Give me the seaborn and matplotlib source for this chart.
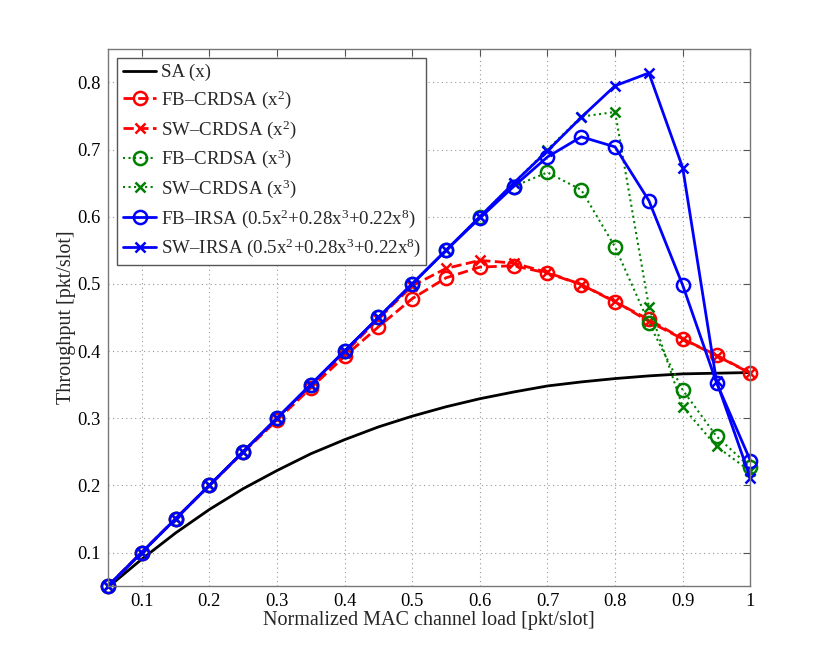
import numpy as np
import pandas as pd
import matplotlib
matplotlib.use("Agg")
import matplotlib.pyplot as plt
import seaborn as sns

# Offered load (x axis)
load = [0.05, 0.10, 0.15, 0.20, 0.25, 0.30, 0.35, 0.40, 0.45, 0.50,
        0.55, 0.60, 0.65, 0.70, 0.75, 0.80, 0.85, 0.90, 0.95, 1.00]

# Throughput values
sa = [0.048, 0.090, 0.129, 0.164, 0.195, 0.222, 0.247, 0.268, 0.287, 0.303,
      0.317, 0.329, 0.339, 0.348, 0.354, 0.359, 0.363, 0.366, 0.367, 0.368]
fb_crdsa2 = [0.050, 0.100, 0.150, 0.200, 0.249, 0.297, 0.345, 0.392, 0.436, 0.478,
             0.509, 0.525, 0.527, 0.516, 0.499, 0.473, 0.447, 0.418, 0.394, 0.367]
sw_crdsa2 = [0.050, 0.100, 0.150, 0.200, 0.250, 0.299, 0.348, 0.397, 0.448, 0.497,
             0.523, 0.535, 0.531, 0.517, 0.499, 0.474, 0.444, 0.418, 0.393, 0.367]
fb_crdsa3 = [0.050, 0.100, 0.150, 0.200, 0.250, 0.300, 0.350, 0.400, 0.450, 0.500,
             0.550, 0.600, 0.645, 0.666, 0.640, 0.555, 0.442, 0.342, 0.273, 0.227]
sw_crdsa3 = [0.050, 0.100, 0.150, 0.200, 0.250, 0.300, 0.350, 0.400, 0.450, 0.500,
             0.550, 0.600, 0.650, 0.700, 0.749, 0.756, 0.466, 0.317, 0.258, 0.221]
fb_irsa = [0.050, 0.100, 0.150, 0.200, 0.250, 0.300, 0.350, 0.400, 0.450, 0.500,
           0.550, 0.598, 0.645, 0.689, 0.719, 0.704, 0.624, 0.498, 0.353, 0.237]
sw_irsa = [0.050, 0.100, 0.150, 0.200, 0.250, 0.300, 0.350, 0.400, 0.450, 0.500,
           0.550, 0.600, 0.650, 0.698, 0.748, 0.795, 0.814, 0.673, 0.355, 0.211]

labels = ["SA (x)",
          r"FB–CRDSA (x$^2$)",
          r"SW–CRDSA (x$^2$)",
          r"FB–CRDSA (x$^3$)",
          r"SW–CRDSA (x$^3$)",
          r"FB–IRSA (0.5x$^2$+0.28x$^3$+0.22x$^8$)",
          r"SW–IRSA (0.5x$^2$+0.28x$^3$+0.22x$^8$)"]

sns.set_theme(style="white")
plt.rcParams['font.family'] = ['Liberation Serif', 'DejaVu Serif']
plt.rcParams['mathtext.fontset'] = 'custom'
plt.rcParams['mathtext.rm'] = 'Liberation Serif'
plt.rcParams['mathtext.it'] = 'Liberation Serif:italic'

fig = plt.figure(figsize=(8.3, 6.6), dpi=100)
ax = fig.add_axes([0.130, 0.112, 0.774, 0.814])

df = pd.DataFrame({"load": load, "sa": sa,
                   "fb2": fb_crdsa2, "sw2": sw_crdsa2,
                   "fb3": fb_crdsa3, "sw3": sw_crdsa3,
                   "fbi": fb_irsa, "swi": sw_irsa})

green = "#008000"
styles = [
    ("sa", "black", "-", None, 2.0),
    ("fb2", "red", "--", "o", 2.0),
    ("sw2", "red", "--", "x", 2.0),
    ("fb3", green, ":", "o", 1.5),
    ("sw3", green, ":", "x", 1.5),
    ("fbi", "blue", "-", "o", 2.0),
    ("swi", "blue", "-", "x", 2.0),
]

for (col, color, ls, mk, lw), lab in zip(styles, labels):
    kw = dict(marker=mk, markersize=9.5, markerfacecolor="none",
              markeredgecolor=color, markeredgewidth=1.8) if mk else {}
    if mk == "x":
        kw["markersize"] = 6.5
    sns.lineplot(data=df, x="load", y=col, ax=ax, color=color, linestyle=ls,
                 linewidth=lw, label=lab, clip_on=False, **kw)

ax.set_xlim(0.05, 1.0)
ax.set_ylim(0.05, 0.85)
ax.set_xticks([0.1, 0.2, 0.3, 0.4, 0.5, 0.6, 0.7, 0.8, 0.9, 1.0])
ax.set_xticklabels(["0.1", "0.2", "0.3", "0.4", "0.5", "0.6", "0.7", "0.8", "0.9", "1"])
ax.set_yticks([0.1, 0.2, 0.3, 0.4, 0.5, 0.6, 0.7, 0.8])
ax.grid(True, linestyle=(0, (1, 3)), color="#999999", linewidth=0.8)
ax.tick_params(direction="in", top=True, right=True, length=5, width=0.8,
               labelsize=13.3, colors="#555555", labelcolor="black", pad=5)
for s in ax.spines.values():
    s.set_color("#777777")
    s.set_linewidth(1.0)

ax.set_xlabel("Normalized MAC channel load [pkt/slot]", fontsize=14.5, labelpad=1)
ax.set_ylabel("Throughput [pkt/slot]", fontsize=14.5, labelpad=1)

leg = ax.legend(loc="upper left", fontsize=13.6, frameon=True, fancybox=False,
                framealpha=1, edgecolor="#555555", borderaxespad=0.5,
                handlelength=1.75, handletextpad=0.25, labelspacing=0.38,
                borderpad=0.3)
leg.get_frame().set_linewidth(1.0)

fig.savefig("out.png", dpi=100)
